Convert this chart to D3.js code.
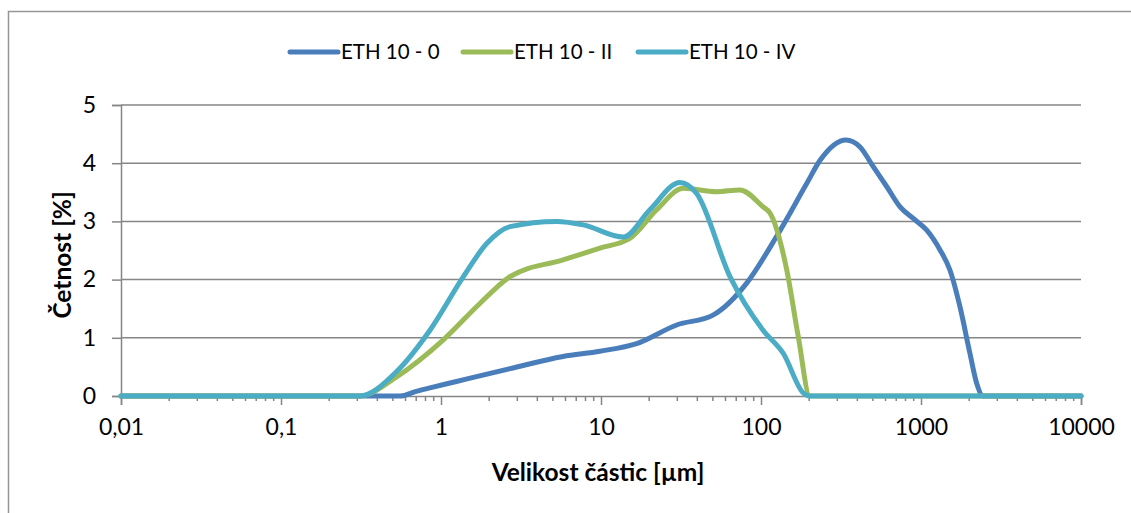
<!DOCTYPE html>
<html>
<head>
<meta charset="utf-8">
<script src="https://cdn.jsdelivr.net/npm/d3@7"></script>
<style>
	body { margin: 0; background: #fff; }
	text { font-family: Lato, "Open Sans", sans-serif; fill: #000; }
</style>
</head>
<body>
<div id="chart"></div>
<script>
// series data (size in µm, frequency in %)
const seriesNames = ['ETH 10 - 0', 'ETH 10 - II', 'ETH 10 - IV'];
const seriesColors = ['#4a7ebb', '#9bbb59', '#4bacc6'];

const size0 = [0.01, 0.1, 0.3, 0.555, 0.7, 0.853, 1.25, 2.7, 5.79, 9.86, 16.7, 29.7, 50.1, 81.4, 125, 193, 234, 340, 416, 503, 610, 740, 895, 1086, 1315, 1518, 1753, 2023, 2228, 2447, 3000, 10000];
const freq0 = [0, 0, 0, 0, 0.08, 0.14, 0.25, 0.47, 0.68, 0.77, 0.9, 1.22, 1.39, 1.94, 2.74, 3.65, 4.05, 4.40, 4.28, 3.94, 3.60, 3.25, 3.05, 2.85, 2.51, 2.16, 1.53, 0.73, 0.22, 0, 0, 0];

const sizeII = [0.01, 0.1, 0.31, 0.528, 1.03, 1.75, 2.70, 5.79, 9.86, 15.2, 22.3, 32.7, 52.8, 73.9, 103, 114, 145, 171, 202, 250, 10000];
const freqII = [0, 0, 0, 0.33, 0.96, 1.59, 2.05, 2.34, 2.54, 2.71, 3.20, 3.57, 3.51, 3.54, 3.25, 3.14, 2.16, 1.02, 0, 0, 0];

const sizeIV = [0.01, 0.1, 0.31, 0.528, 0.853, 1.38, 1.93, 2.70, 5.28, 7.75, 13.8, 20.2, 31.2, 39.6, 64.0, 103, 138, 184, 202, 250, 10000];
const freqIV = [0, 0, 0, 0.42, 1.13, 2.05, 2.62, 2.91, 3.0, 2.94, 2.73, 3.20, 3.67, 3.48, 2.05, 1.13, 0.73, 0.05, 0, 0, 0];

const xTicks = [0.01, 0.1, 1, 10, 100, 1000, 10000];
const xTickLabels = ['0,01', '0,1', '1', '10', '100', '1000', '10000'];
const yTicks = [0, 1, 2, 3, 4, 5];

const width = 1131, height = 513;
const plot = {left: 121, right: 1081, top: 105, bottom: 396};

let svg = d3.select('#chart').append('svg')
	.attr('width', width)
	.attr('height', height);

// chart frame
svg.append('rect')
	.attr('x', 8.5).attr('y', 11.5)
	.attr('width', 1140).attr('height', 520)
	.attr('fill', 'none')
	.attr('stroke', '#969696')
	.attr('stroke-width', 1.5);

let x = d3.scaleLog()
	.domain([0.01, 10000])
	.range([plot.left, plot.right]);
let y = d3.scaleLinear()
	.domain([0, 5])
	.range([plot.bottom, plot.top]);

// gridlines
svg.append('g')
	.selectAll('line')
	.data(yTicks.slice(1))
	.join('line')
	.attr('x1', plot.left).attr('x2', plot.right)
	.attr('y1', d => y(d)).attr('y2', d => y(d))
	.attr('stroke', '#868686')
	.attr('stroke-width', 1.5);

// y axis
let yAxis = svg.append('g')
	.attr('transform', `translate(${plot.left},0)`)
	.call(d3.axisLeft(y).tickValues(yTicks).tickSize(9).tickPadding(16).tickFormat(d3.format('d')));
yAxis.select('.domain').attr('stroke', '#868686').attr('stroke-width', 1.5);
yAxis.selectAll('.tick line').attr('stroke', '#868686').attr('stroke-width', 1.5);
yAxis.selectAll('.tick text').attr('font-size', 23).attr('font-family', 'Lato');

// x axis: minor ticks first, then major with labels
let minor = [];
for (let e = -2; e < 4; e++) {
	for (let k = 2; k <= 9; k++) minor.push(k * Math.pow(10, e));
}
svg.append('g')
	.selectAll('line')
	.data(minor)
	.join('line')
	.attr('x1', d => x(d)).attr('x2', d => x(d))
	.attr('y1', plot.bottom).attr('y2', plot.bottom + 5)
	.attr('stroke', '#868686')
	.attr('stroke-width', 1.5);

let xAxis = svg.append('g')
	.attr('transform', `translate(0,${plot.bottom})`)
	.call(d3.axisBottom(x).tickValues(xTicks).tickSize(9).tickPadding(14)
		.tickFormat((d, i) => xTickLabels[i]));
xAxis.select('.domain').attr('stroke', '#868686').attr('stroke-width', 1.5);
xAxis.selectAll('.tick line').attr('stroke', '#868686').attr('stroke-width', 1.5);
xAxis.selectAll('.tick text').attr('font-size', 23).attr('font-family', 'Lato');

// series lines
const series = [
	{name: seriesNames[0], color: seriesColors[0], size: size0, freq: freq0},
	{name: seriesNames[1], color: seriesColors[1], size: sizeII, freq: freqII},
	{name: seriesNames[2], color: seriesColors[2], size: sizeIV, freq: freqIV},
];

let line = d3.line()
	.x(d => x(d[0]))
	.y(d => y(d[1]))
	.curve(d3.curveMonotoneX);

svg.append('g')
	.selectAll('path')
	.data(series)
	.join('path')
	.attr('d', s => line(s.size.map((v, i) => [v, s.freq[i]])))
	.attr('fill', 'none')
	.attr('stroke', s => s.color)
	.attr('stroke-width', 5)
	.attr('stroke-linecap', 'round')
	.attr('stroke-linejoin', 'round');

// legend
const legendX = [290, 463, 638];
let legend = svg.append('g')
	.selectAll('g')
	.data(series)
	.join('g')
	.attr('transform', (d, i) => `translate(${legendX[i]},52)`);
legend.append('line')
	.attr('x1', 0).attr('x2', 48)
	.attr('stroke', d => d.color)
	.attr('stroke-width', 5)
	.attr('stroke-linecap', 'round');
legend.append('text')
	.attr('x', 51)
	.attr('dy', '0.35em')
	.attr('font-size', 20.5)
	.text(d => d.name);

// axis titles
svg.append('text')
	.attr('x', 598)
	.attr('y', 472)
	.attr('dy', '0.35em')
	.attr('text-anchor', 'middle')
	.attr('font-size', 24.5)
	.attr('font-weight', 'bold')
	.text('Velikost částic [µm]');

svg.append('text')
	.attr('transform', `translate(62,255) rotate(-90)`)
	.attr('dy', '0.35em')
	.attr('text-anchor', 'middle')
	.attr('font-size', 24.5)
	.attr('font-weight', 'bold')
	.text('Četnost [%]');
</script>
</body>
</html>
